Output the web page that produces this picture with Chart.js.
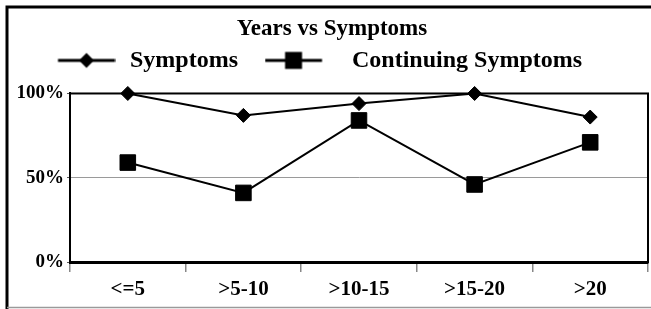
<!DOCTYPE html>
<html>
<head>
<meta charset="utf-8">
<script src="https://cdn.jsdelivr.net/npm/chart.js@4/dist/chart.umd.min.js"></script>
<style>
  html, body { margin: 0; padding: 0; background: #fff; }
  canvas { display: block; }
</style>
</head>
<body>
<canvas id="c" width="651" height="309"></canvas>
<script>
// ---- data ----
const categories = ['<=5', '>5-10', '>10-15', '>15-20', '>20'];
const symptoms = [100, 87, 94, 100, 86];
const continuingSymptoms = [59, 41, 84, 46, 71];
const yTicks = [0, 50, 100];
const titleText = 'Years vs Symptoms';
const seriesNames = ['Symptoms', 'Continuing Symptoms'];

const FONT = "'Liberation Serif', 'Times New Roman', serif";
Chart.defaults.font.family = FONT;
Chart.defaults.color = '#000';

function legendImg(kind, w, x0, x1) {
  const c = document.createElement('canvas');
  c.width = w; c.height = 24;
  const g = c.getContext('2d');
  g.strokeStyle = '#000'; g.lineWidth = 3;
  g.beginPath(); g.moveTo(x0, 12); g.lineTo(x1, 12); g.stroke();
  const m = (x0 + x1) / 2;
  g.fillStyle = '#000';
  if (kind === 'diamond') {
    g.beginPath(); g.moveTo(m - 7.5, 12); g.lineTo(m, 4.5); g.lineTo(m + 7.5, 12); g.lineTo(m, 19.5); g.closePath(); g.fill();
  } else {
    g.fillRect(m - 8.5, 3.5, 17, 17);
  }
  return c;
}
const legendIcons = [legendImg('diamond', 78, 20.5, 77.5), legendImg('square', 68, 0.5, 57.5)];

const framePlugin = {
  id: 'frame',
  beforeDraw(chart) {
    const ctx = chart.ctx;
    ctx.save();
    ctx.fillStyle = '#fff';
    ctx.fillRect(0, 0, chart.width, chart.height);
    ctx.strokeStyle = '#000';
    ctx.lineWidth = 3;
    ctx.beginPath();
    ctx.moveTo(7, chart.height); ctx.lineTo(7, 7); ctx.lineTo(chart.width, 7);
    ctx.stroke();
    ctx.strokeStyle = '#9a9a9a';
    ctx.lineWidth = 1.5;
    ctx.beginPath();
    ctx.moveTo(7, chart.height - 1.5); ctx.lineTo(chart.width, chart.height - 1.5);
    ctx.stroke();
    ctx.restore();
  },
  beforeDatasetsDraw(chart) {
    const a = chart.chartArea, ctx = chart.ctx;
    ctx.save();
    ctx.strokeStyle = '#000';
    ctx.lineWidth = 2;
    ctx.strokeRect(a.left, a.top, a.right - a.left, a.bottom - a.top);
    ctx.restore();
  }
};

new Chart(document.getElementById('c'), {
  type: 'line',
  data: {
    labels: categories,
    datasets: [
      {
        label: seriesNames[0], data: symptoms,
        borderColor: '#000', backgroundColor: '#000', borderWidth: 2,
        pointStyle: 'rectRot', pointRadius: 7, pointBorderWidth: 1,
        pointBackgroundColor: '#000', pointBorderColor: '#000',
        tension: 0, clip: false
      },
      {
        label: seriesNames[1], data: continuingSymptoms,
        borderColor: '#000', backgroundColor: '#000', borderWidth: 2,
        pointStyle: 'rect', pointRadius: 11, pointBorderWidth: 1,
        pointBackgroundColor: '#000', pointBorderColor: '#000',
        tension: 0, clip: false
      }
    ]
  },
  options: {
    responsive: false,
    animation: false,
    devicePixelRatio: 1,
    layout: { autoPadding: false, padding: { left: 16, right: 3, top: 8, bottom: 0 } },
    plugins: {
      title: {
        display: true, text: titleText, color: '#000',
        font: { size: 23, weight: 'bold', lineHeight: 0.06 },
        padding: { top: 20, bottom: 0 }
      },
      subtitle: {
        display: true, text: '', weight: 500,
        font: { size: 10, lineHeight: 1 },
        padding: { top: 0, bottom: 1.1 }
      },
      legend: {
        display: true, position: 'top', align: 'start',
        labels: {
          usePointStyle: true, pointStyleWidth: 83, padding: 19,
          color: '#000',
          font: { size: 24, weight: 'bold' },
          generateLabels: (chart) => chart.data.datasets.map((ds, i) => ({
            text: ds.label, datasetIndex: i, pointStyle: legendIcons[i],
            fillStyle: '#000', strokeStyle: '#000', lineWidth: 0, hidden: false, fontColor: '#000'
          }))
        }
      },
      tooltip: { enabled: false }
    },
    scales: {
      x: {
        offset: true,
        grid: { offset: true, drawOnChartArea: false, tickLength: 10, color: '#888', tickColor: '#888', lineWidth: 1.5 },
        border: { color: '#000', width: 3 },
        ticks: { font: { size: 21, weight: 'bold' }, color: '#000', padding: 5, maxRotation: 0, autoSkip: false },
        afterFit(s) { s.height = 47; s.paddingLeft = 0; s.paddingRight = 0; }
      },
      y: {
        min: 0, max: 100,
        afterBuildTicks(s) { s.ticks = yTicks.map(v => ({ value: v })); },
        grid: {
          color: (c) => (c.tick && c.tick.value === 50) ? '#9a9a9a' : 'rgba(0,0,0,0)',
          tickColor: '#555', tickLength: 3, lineWidth: 1
        },
        border: { color: '#000', width: 2 },
        ticks: { font: { size: 19, weight: 'bold' }, color: '#000', padding: 3, callback: (v) => v + '%' },
        afterFit(s) { s.width = 54; }
      }
    }
  },
  plugins: [framePlugin]
});
</script>
</body>
</html>
